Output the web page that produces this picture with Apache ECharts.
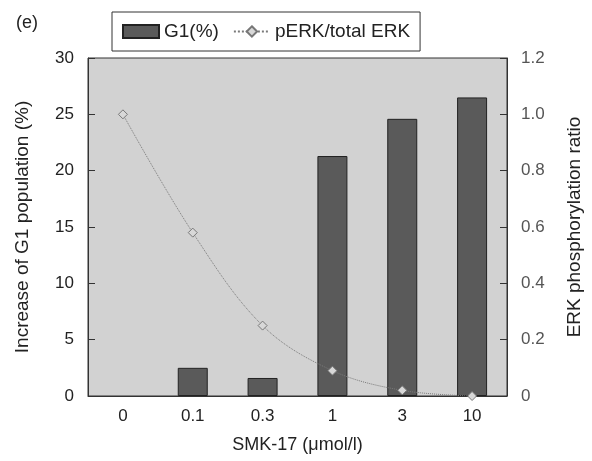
<!DOCTYPE html>
<html><head><meta charset="utf-8">
<script src="https://cdn.jsdelivr.net/npm/echarts@6/dist/echarts.min.js"></script>
<style>html,body{margin:0;padding:0;background:#fff}#c{width:592px;height:461px}</style>
</head><body><div id="c"></div>
<script>
const categories = ['0', '0.1', '0.3', '1', '3', '10'];
const g1Values = [null, 2.5, 1.6, 21.3, 24.6, 26.5];
const erkValues = [1.0, 0.58, 0.25, 0.09, 0.02, 0.0];
const leftTicks = [0, 5, 10, 15, 20, 25, 30];
const rightTicks = [0, 0.2, 0.4, 0.6, 0.8, 1.0, 1.2];

const chart = echarts.init(document.getElementById('c'));
const font = 'Liberation Sans, Arial, Helvetica, sans-serif';
chart.setOption({
  animation: false,
  textStyle: { fontFamily: font },
  title: { text: '(e)', left: 11, top: 9, textStyle: { fontSize: 18, fontWeight: 'normal', color: '#222', fontFamily: font } },
  legend: {
    left: 112, top: 12, padding: [10, 10, 10, 10],
    borderColor: '#333', borderWidth: 1, backgroundColor: '#fff',
    itemGap: 14, itemWidth: 36, itemHeight: 13,
    textStyle: { fontSize: 19, color: '#222', fontFamily: font },
    data: [
      { name: 'G1(%)', icon: 'rect' },
      { name: 'pERK/total ERK' }
    ]
  },
  grid: { left: 88, right: 79, top: 58, bottom: 65, show: true, backgroundColor: '#d2d2d2', borderColor: '#333', borderWidth: 1 },
  xAxis: {
    type: 'category', data: categories,
    name: 'SMK-17 (\u03bcmol/l)', nameLocation: 'middle', nameGap: 40,
    nameTextStyle: { fontSize: 18, color: '#222' },
    axisLine: { lineStyle: { color: '#333' } },
    axisTick: { show: false },
    axisLabel: { fontSize: 17, color: '#222', margin: 12 }
  },
  yAxis: [
    {
      type: 'value', min: 0, max: 30, interval: 5,
      name: 'Increase of G1 population (%)', nameLocation: 'middle', nameGap: 56,
      nameTextStyle: { fontSize: 19, color: '#222' },
      axisLine: { show: true, lineStyle: { color: '#333' } },
      axisTick: { show: true, inside: true, length: 7, lineStyle: { color: '#333' } },
      axisLabel: { fontSize: 17, color: '#222', margin: 14 },
      splitLine: { show: false }
    },
    {
      type: 'value', min: 0, max: 1.2, interval: 0.2, position: 'right',
      name: 'ERK phosphorylation ratio', nameLocation: 'middle', nameGap: 58,
      nameRotate: 90,
      nameTextStyle: { fontSize: 19, color: '#222' },
      axisLine: { show: true, lineStyle: { color: '#333' } },
      axisTick: { show: true, inside: true, length: 7, lineStyle: { color: '#333' } },
      axisLabel: { fontSize: 17, color: '#555', margin: 14, formatter: v => v === 0 ? '0' : v.toFixed(1) },
      splitLine: { show: false }
    }
  ],
  series: [
    {
      name: 'G1(%)', type: 'bar', data: g1Values, barWidth: 30, yAxisIndex: 0,
      itemStyle: { color: '#5a5a5a', borderColor: '#222', borderWidth: 1 }
    },
    {
      name: 'pERK/total ERK', type: 'line', data: erkValues, yAxisIndex: 1, smooth: 0.35,
      symbol: 'diamond', symbolSize: 9, showSymbol: true,
      lineStyle: { color: '#7a7a7a', width: 1, type: 'dotted' },
      itemStyle: { color: '#d8d8d8', borderColor: '#777', borderWidth: 1 }
    }
  ]
});
</script></body></html>
